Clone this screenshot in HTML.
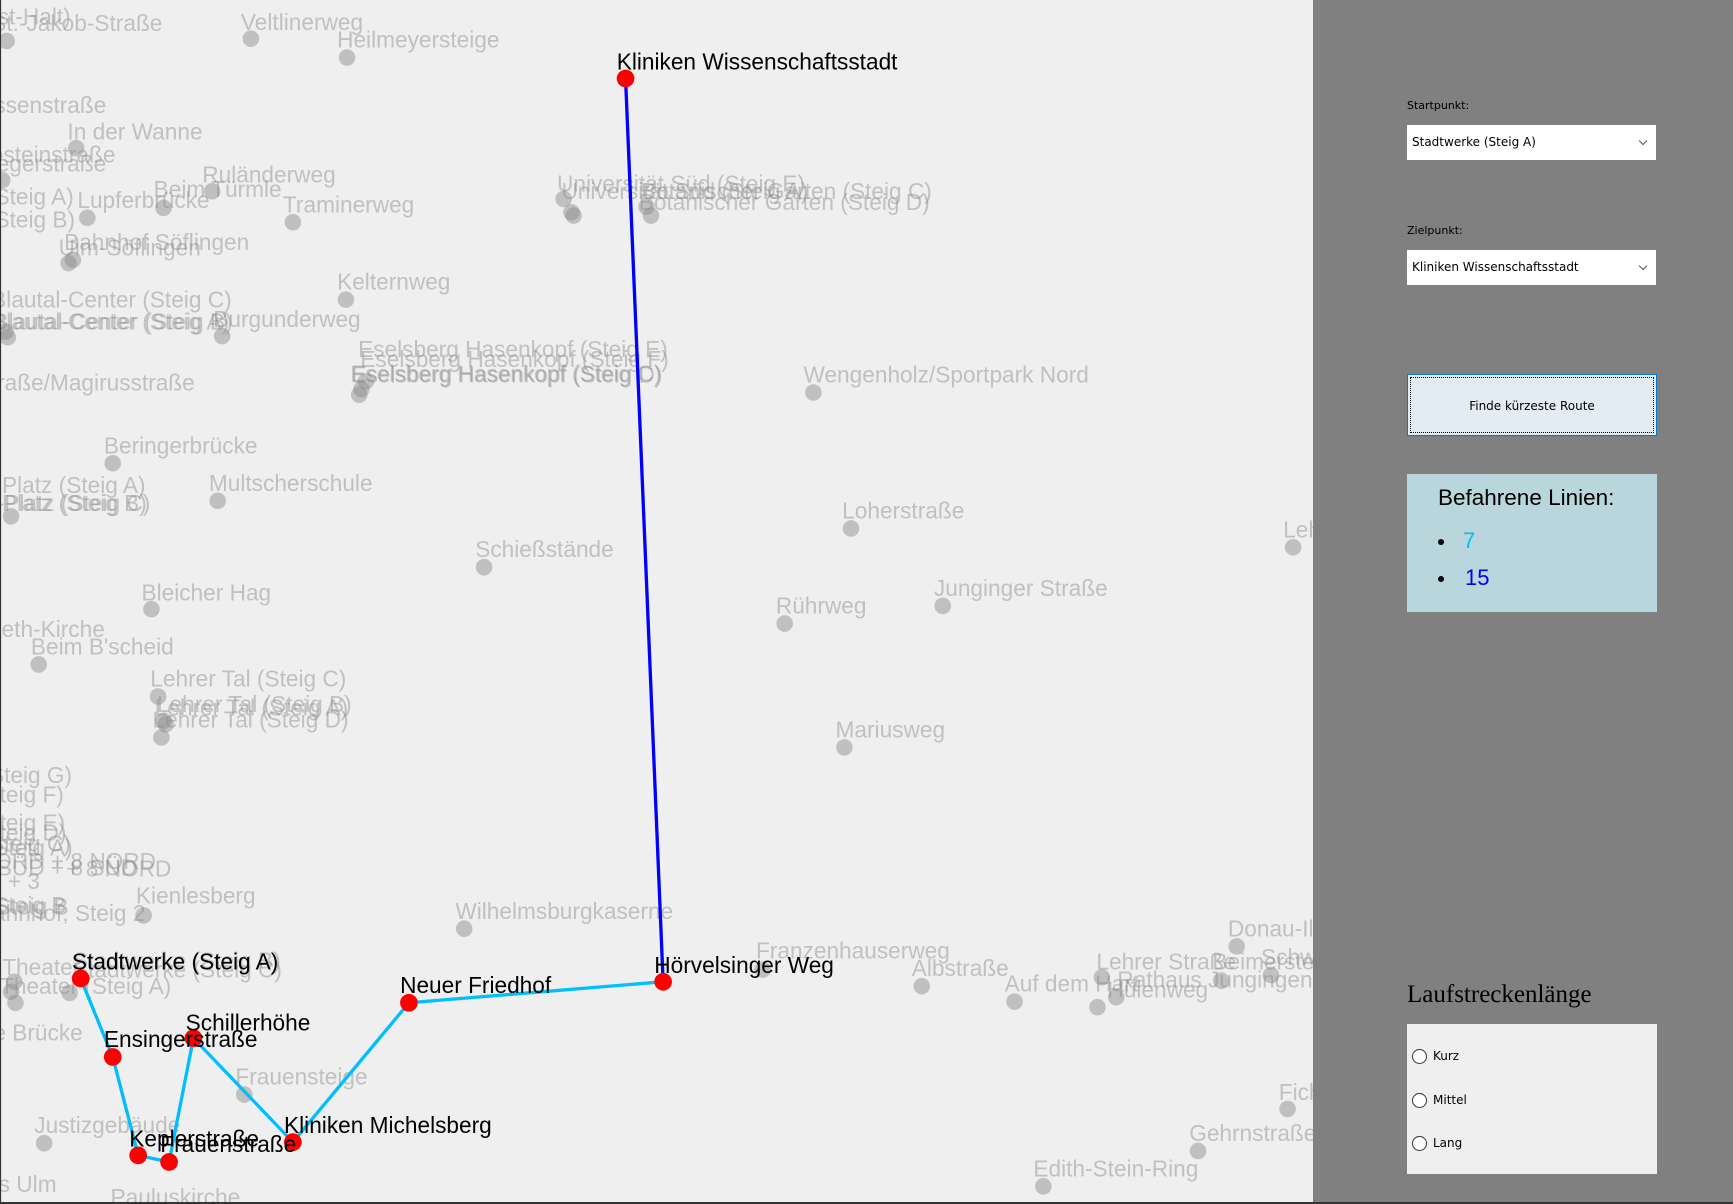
<!DOCTYPE html>
<html><head><meta charset="utf-8"><style>
html,body{margin:0;padding:0;width:1733px;height:1204px;overflow:hidden;background:#efefef;font-family:"Liberation Sans",sans-serif}
#map{position:absolute;left:0;top:0}
#panel{position:absolute;left:1313px;top:0;width:420px;height:1204px;background:#808080}
.lbl{position:absolute;left:94px;font-size:11px;color:#000;font-family:"DejaVu Sans","Liberation Sans",sans-serif}
.dd{position:absolute;left:94px;width:249px;height:35px;background:#fff;font-size:12px;font-family:"DejaVu Sans","Liberation Sans",sans-serif;line-height:35px;text-indent:5px;box-sizing:border-box}
.dd:after{content:"";position:absolute;right:10px;top:13px;width:5px;height:5px;border-right:1px solid #555;border-bottom:1px solid #555;transform:rotate(45deg)}
.bul{position:absolute;left:31px;width:6px;height:6px;border-radius:50%;background:#000}
</style></head><body>
<svg id="map" width="1313" height="1204" viewBox="0 0 1188 1089" preserveAspectRatio="none" xmlns="http://www.w3.org/2000/svg">
<rect x="0" y="0" width="1188" height="1089" fill="#efefef"/>
<g fill="#8a8888" fill-opacity="0.45">
<circle cx="6" cy="37" r="7.5"/><circle cx="227" cy="35" r="7.5"/><circle cx="314" cy="52" r="7.5"/>
<circle cx="69" cy="134" r="7.5"/><circle cx="2" cy="163" r="7.5"/><circle cx="192" cy="173" r="7.5"/><circle cx="148" cy="188" r="7.5"/><circle cx="79" cy="197" r="7.5"/>
<circle cx="265" cy="201" r="7.5"/><circle cx="62" cy="238" r="7.5"/><circle cx="66" cy="235" r="7.5"/>
<circle cx="313" cy="271" r="7.5"/><circle cx="201" cy="304" r="7.5"/><circle cx="7" cy="305" r="7.5"/><circle cx="5" cy="300" r="7.5"/>
<circle cx="327" cy="352" r="7.5"/><circle cx="331" cy="345" r="7.5"/><circle cx="325" cy="357" r="7.5"/>
<circle cx="510" cy="180" r="7.5"/><circle cx="517" cy="192" r="7.5"/><circle cx="519" cy="195" r="7.5"/><circle cx="589" cy="195" r="7.5"/><circle cx="585" cy="187" r="7.5"/>
<circle cx="736" cy="355" r="7.5"/><circle cx="102" cy="419" r="7.5"/><circle cx="10" cy="467" r="7.5"/><circle cx="197" cy="453" r="7.5"/>
<circle cx="770" cy="478" r="7.5"/><circle cx="1170" cy="495" r="7.5"/><circle cx="438" cy="513" r="7.5"/><circle cx="710" cy="564" r="7.5"/>
<circle cx="853" cy="548" r="7.5"/><circle cx="137" cy="551" r="7.5"/><circle cx="35" cy="601" r="7.5"/>
<circle cx="143" cy="630" r="7.5"/><circle cx="150" cy="655" r="7.5"/><circle cx="148" cy="652" r="7.5"/><circle cx="146" cy="667" r="7.5"/>
<circle cx="764" cy="676" r="7.5"/><circle cx="130" cy="828" r="7.5"/><circle cx="420" cy="840" r="7.5"/><circle cx="690" cy="877" r="7.5"/>
<circle cx="1119" cy="856" r="7.5"/><circle cx="834" cy="892" r="7.5"/><circle cx="918" cy="906" r="7.5"/><circle cx="993" cy="911" r="7.5"/>
<circle cx="1010" cy="902" r="7.5"/><circle cx="997" cy="884" r="7.5"/><circle cx="1105" cy="887" r="7.5"/><circle cx="1150" cy="882" r="7.5"/>
<circle cx="10" cy="897" r="7.5"/><circle cx="14" cy="907" r="7.5"/><circle cx="63" cy="898" r="7.5"/><circle cx="13" cy="888" r="7.5"/>
<circle cx="221" cy="990" r="7.5"/><circle cx="40" cy="1034" r="7.5"/><circle cx="1165" cy="1003" r="7.5"/><circle cx="1084" cy="1041" r="7.5"/><circle cx="944" cy="1073" r="7.5"/>
</g>
<g fill="#8a8888" fill-opacity="0.45" font-size="20.5" font-family="Liberation Sans, sans-serif">
<text x="-18" y="22">Ost-Halt)</text><text x="-8" y="28">St.-Jakob-Straße</text>
<text x="218" y="27">Veltlinerweg</text><text x="305" y="43">Heilmeyersteige</text>
<text x="-28" y="102">Lessenstraße</text><text x="61" y="126">In der Wanne</text>
<text x="-22" y="147">Kösteinstraße</text><text x="-22" y="155">Wegerstraße</text>
<text x="183" y="165">Ruländerweg</text><text x="139" y="178">Beim Türmle</text><text x="70" y="188">Lupferbrücke</text>
<text x="-5" y="185">Steig A)</text><text x="-5" y="206">Steig B)</text>
<text x="256" y="192">Traminerweg</text><text x="58" y="226">Bahnhof Söflingen</text><text x="53" y="231">Ulm-Söflingen</text>
<text x="305" y="262">Kelternweg</text><text x="-8" y="278">Blautal-Center (Steig C)</text>
<text x="-8" y="298">Blautal-Center (Steig A)</text><text x="-6" y="298">Blautal-Center (Steig B)</text>
<text x="193" y="296">Burgunderweg</text>
<text x="324" y="323">Eselsberg Hasenkopf (Steig E)</text><text x="326" y="332">Eselsberg Hasenkopf (Steig F)</text>
<text x="317" y="345">Eselsberg Hasenkopf (Steig C)</text><text x="318" y="346">Eselsberg Hasenkopf (Steig D)</text>
<text x="-22" y="353">Straße/Magirusstraße</text><text x="727" y="346">Wengenholz/Sportpark Nord</text>
<text x="504" y="173">Universität Süd (Steig E)</text><text x="508" y="180">Universität Süd (Steig A)</text>
<text x="580" y="180">Botanischer Garten (Steig C)</text><text x="578" y="190">Botanischer Garten (Steig D)</text>
<text x="94" y="410">Beringerbrücke</text><text x="-5" y="446">-Platz (Steig A)</text><text x="-5" y="462">-Platz (Steig B)</text><text x="-3" y="462">-Platz (Steig C)</text>
<text x="189" y="444">Multscherschule</text><text x="762" y="469">Loherstraße</text><text x="1161" y="486">Lehrer</text>
<text x="430" y="504">Schießstände</text><text x="702" y="555">Rührweg</text><text x="845" y="539">Junginger Straße</text>
<text x="128" y="543">Bleicher Hag</text><text x="-10" y="576">beth-Kirche</text><text x="28" y="592">Beim B'scheid</text>
<text x="136" y="621">Lehrer Tal (Steig C)</text><text x="142" y="644">Lehrer Tal (Steig B)</text><text x="140" y="647">Lehrer Tal (Steig A)</text><text x="138" y="658">Lehrer Tal (Steig D)</text>
<text x="756" y="667">Mariusweg</text>
<text x="-10" y="708">Steig G)</text><text x="-14" y="726">Steig F)</text><text x="-14" y="751">Steig E)</text>
<text x="-14" y="760">Steig D)</text><text x="-10" y="770">Steig C)</text><text x="-6" y="774">Steig A)</text>
<text x="-20" y="786">NORD + 8 NORD</text><text x="60" y="793">+ 8 NORD</text><text x="-20" y="792">5 SÜD + 8 SÜD</text><text x="-10" y="804">2 + 3</text>
<text x="123" y="817">Kienlesberg</text><text x="-6" y="826">Steig B</text><text x="-4" y="827">Steig B</text><text x="-20" y="833">Bahnhof, Steig 2</text>
<text x="412" y="831">Wilhelmsburgkaserne</text><text x="684" y="867">Franzenhauserweg</text><text x="1111" y="847">Donau-Iller</text>
<text x="825" y="883">Albstraße</text><text x="992" y="877">Lehrer Straße</text><text x="1011" y="893">Rathaus Jungingen</text>
<text x="1097" y="877">Beimerstetten</text><text x="1141" y="873">Schwarz</text><text x="909" y="897">Auf dem Hart</text><text x="1002" y="902">Hülenweg</text>
<text x="2" y="882">Theater</text><text x="66" y="884">Stadtwerke (Steig C)</text><text x="0" y="899">Theater (Steig A)</text><text x="66" y="876">Stadtwerke (Steig B)</text>
<text x="-6" y="941">e Brücke</text><text x="213" y="981">Frauensteige</text><text x="31" y="1025">Justizgebäude</text>
<text x="1157" y="995">Fichte</text><text x="1076" y="1032">Gehrnstraße</text><text x="935" y="1064">Edith-Stein-Ring</text>
<text x="-24" y="1078">des Ulm</text><text x="100" y="1090">Pauluskirche</text>
</g>
<g fill="none" stroke-linecap="round" stroke-linejoin="round">
<polyline points="73,885 102,956 125,1045 153,1051 175,939 265,1033 370,907 600,888" stroke="#00bfff" stroke-width="3"/>
<line x1="600" y1="888" x2="566" y2="71" stroke="#0000ff" stroke-width="3"/>
</g>
<g fill="#ff0000">
<circle cx="566" cy="71" r="8"/><circle cx="600" cy="888" r="8"/><circle cx="370" cy="907" r="8"/><circle cx="265" cy="1033" r="8"/>
<circle cx="175" cy="939" r="8"/><circle cx="153" cy="1051" r="8"/><circle cx="125" cy="1045" r="8"/><circle cx="102" cy="956" r="8"/><circle cx="73" cy="885" r="8"/>
</g>
<g fill="#000" font-size="20.5" font-family="Liberation Sans, sans-serif">
<text x="558" y="63">Kliniken Wissenschaftsstadt</text><text x="592" y="880">Hörvelsinger Weg</text>
<text x="362" y="898">Neuer Friedhof</text><text x="257" y="1025">Kliniken Michelsberg</text>
<text x="168" y="932">Schillerhöhe</text><text x="145" y="1042">Frauenstraße</text><text x="117" y="1037">Keplerstraße</text>
<text x="94" y="947">Ensingerstraße</text><text x="65" y="877">Stadtwerke (Steig A)</text>
</g>
<line x1="0.5" y1="0" x2="0.5" y2="1089" stroke="#333" stroke-width="1"/>
<line x1="0" y1="1088.5" x2="1188" y2="1088.5" stroke="#333" stroke-width="1"/>
</svg>
<div id="panel">
<div class="lbl" style="top:99px">Startpunkt:</div>
<div class="dd" style="top:125px">Stadtwerke (Steig A)</div>
<div class="lbl" style="top:224px">Zielpunkt:</div>
<div class="dd" style="top:250px">Kliniken Wissenschaftsstadt</div>
<div style="position:absolute;left:94px;top:374px;width:250px;height:62px;box-sizing:border-box;border:1px solid #0078d7;background:#e3ebf3;padding:2px">
<div style="width:100%;height:100%;box-sizing:border-box;border:1px dotted #000;text-align:center;line-height:56px;font-size:12px;font-family:'DejaVu Sans','Liberation Sans',sans-serif">Finde kürzeste Route</div></div>
<div style="position:absolute;left:94px;top:474px;width:250px;height:138px;background:#b9d6dc">
<div style="position:absolute;left:31px;top:11px;font-size:22.5px">Befahrene Linien:</div>
<div class="bul" style="top:65px"></div>
<div style="position:absolute;left:56px;top:54px;font-size:22px;color:#00bfff">7</div>
<div class="bul" style="top:102px"></div>
<div style="position:absolute;left:58px;top:91px;font-size:22px;color:#0000ff">15</div>
</div>
<div style="position:absolute;left:94px;top:981px;font-family:'Liberation Serif',serif;font-size:25px;color:#000">Laufstreckenlänge</div>
<div style="position:absolute;left:94px;top:1024px;width:250px;height:150px;background:#efefef;font-size:12px;font-family:'DejaVu Sans','Liberation Sans',sans-serif">
<div style="position:absolute;left:5px;top:25px;width:13px;height:13px;border:1px solid #333;border-radius:50%;background:#fff"></div><div style="position:absolute;left:26px;top:25px">Kurz</div>
<div style="position:absolute;left:5px;top:69px;width:13px;height:13px;border:1px solid #333;border-radius:50%;background:#fff"></div><div style="position:absolute;left:26px;top:69px">Mittel</div>
<div style="position:absolute;left:5px;top:112px;width:13px;height:13px;border:1px solid #333;border-radius:50%;background:#fff"></div><div style="position:absolute;left:26px;top:112px">Lang</div>
</div>
</div>
<div style="position:absolute;left:0;top:1202px;width:1733px;height:2px;background:#333"></div>
</body></html>
